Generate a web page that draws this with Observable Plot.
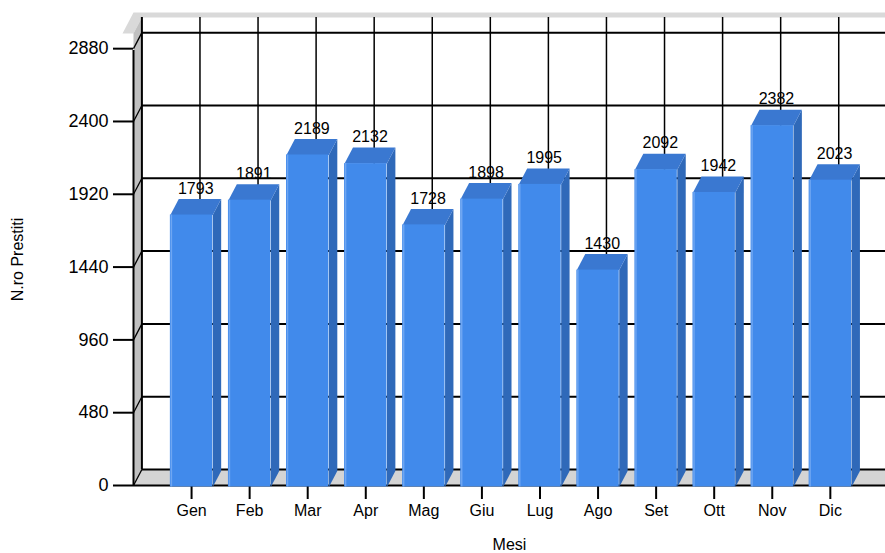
<!DOCTYPE html>
<html>
<head>
<meta charset="utf-8">
<script src="https://cdn.jsdelivr.net/npm/d3@7"></script>
<script src="https://cdn.jsdelivr.net/npm/@observablehq/plot@0.6"></script>
<style>
  html, body { margin: 0; padding: 0; background: #fff; }
  #chart svg { display: block; }
</style>
</head>
<body>
<div id="chart"></div>
<script>
// ---- data ----
const months = ["Gen", "Feb", "Mar", "Apr", "Mag", "Giu", "Lug", "Ago", "Set", "Ott", "Nov", "Dic"];
const values = [1793, 1891, 2189, 2132, 1728, 1898, 1995, 1430, 2092, 1942, 2382, 2023];
const yTicks = [0, 480, 960, 1440, 1920, 2400, 2880];
const yLabel = "N.ro Prestiti";
const xLabel = "Mesi";

// ---- layout ----
const W = 885, H = 553;
const mL = 133, mR = 0, mT = 33, mB = 68;
const xDom = [-1, 11.95];
const yDom = [0, 2980];
const pxX = (W - mL - mR) / (xDom[1] - xDom[0]);
const pxY = (H - mT - mB) / (yDom[1] - yDom[0]);
const DX = 8.4 / pxX;     // depth (x) in data units
const DY = 16 / pxY;      // depth (y) in data units
const HW = 21.2 / pxX;    // half bar width
const TK = 20 / pxX;      // y tick length
const x0 = xDom[0], x1 = xDom[1], yTop = yDom[1];
const yMid = (yDom[0] + yDom[1]) / 2;

const data = months.map((m, i) => ({m, i, v: values[i]}));

const poly = (id, pts) => pts.map(([x, y]) => ({id, x, y}));
const tops = data.flatMap(d => poly(d.m, [
  [d.i - HW, d.v], [d.i + HW, d.v], [d.i + HW + DX, d.v + DY], [d.i - HW + DX, d.v + DY]
]));
const sides = data.flatMap(d => poly(d.m, [
  [d.i + HW, 0], [d.i + HW, d.v], [d.i + HW + DX, d.v + DY], [d.i + HW + DX, DY]
]));
const ceiling = poly("c", [
  [x0 - 11 / pxX, yTop], [x0, yTop + 21 / pxY], [x1, yTop + 21 / pxY],
  [x1, yTop + DY], [x0 + DX, yTop + DY], [x0, yTop]
]);
const leftWall = poly("w", [[x0, 0], [x0, yTop], [x0 + DX, yTop + DY], [x0 + DX, DY]]);
const floor = poly("f", [[x0, 0], [x0 + DX, DY], [x1, DY], [x1, 0]]);

const plot = Plot.plot({
  width: W, height: H,
  marginLeft: mL, marginRight: mR, marginTop: mT, marginBottom: mB,
  x: {type: "linear", domain: xDom, axis: null},
  y: {type: "linear", domain: yDom, axis: null},
  style: {fontFamily: "'Liberation Sans', Arial, sans-serif", fontSize: "16px", color: "#000", background: "#fff"},
  marks: [
    Plot.line(ceiling, {x: "x", y: "y", z: "id", fill: "#d9d9d9", stroke: "none"}),
    Plot.line(leftWall, {x: "x", y: "y", z: "id", fill: "#c0c0c0", stroke: "none"}),
    Plot.line(floor, {x: "x", y: "y", z: "id", fill: "#d4d4d4", stroke: "none"}),
    // back wall gridlines
    Plot.ruleY(yTicks, {y: d => d, x1: x0, x2: x1 + 1, dx: 8.4, dy: -16, stroke: "#000", strokeWidth: 2}),
    Plot.ruleX(data, {x: "i", y1: 0, y2: yTop, dx: 8.4, dy: -16, stroke: "#000", strokeWidth: 1.5}),
    Plot.ruleX([x0], {y1: 0, y2: yTop, dx: 8.4, dy: -16, stroke: "#000", strokeWidth: 2}),
    // left wall slanted lines
    Plot.link(yTicks, {x1: x0, y1: d => d, x2: x0 + DX, y2: d => d + DY, stroke: "#000", strokeWidth: 1.3}),
    // y axis ticks and labels
    Plot.ruleY(yTicks, {y: d => d, x1: x0 - TK, x2: x0, stroke: "#000", strokeWidth: 2}),
    Plot.text(yTicks, {x: x0, y: d => d, text: d => String(d), dx: -25, textAnchor: "end", fontSize: 18, fill: "#000"}),
    // front axis lines
    Plot.ruleY([0], {x1: x0, x2: x1, stroke: "#000", strokeWidth: 2}),
    Plot.ruleX([x0], {y1: 0, y2: yTop, insetBottom: -17, stroke: "#000", strokeWidth: 2}),
    Plot.axisX({ticks: data.map(d => d.i), tickFormat: i => months[i], tickSize: 14, tickPadding: 5, label: null, strokeWidth: 2, fontSize: 16}),
    // 3D bars
    Plot.line(sides, {x: "x", y: "y", z: "id", fill: "#2f69b9", stroke: "none", dy: 1.5}),
    Plot.line(tops, {x: "x", y: "y", z: "id", fill: "#3a78d1", stroke: "none", dy: 1.5}),
    Plot.rectY(data, {x1: d => d.i - HW, x2: d => d.i + HW, y1: 0, y2: "v", dy: 1.5, fill: "#418aeb"}),
    Plot.ruleX(data, {x: d => d.i - HW, y1: 0, y2: "v", dx: 1, dy: 1.5, stroke: "#6ea6f2", strokeWidth: 1.5}),
    // value labels
    Plot.text(data, {x: "i", y: "v", text: d => String(d.v), dx: 4.2, dy: -25, fontSize: 16, fill: "#000"}),
    // axis titles
    Plot.text([yLabel], {x: x0, y: yMid, dx: -116, rotate: -90, fontSize: 16, fill: "#000"}),
    Plot.text([xLabel], {frameAnchor: "bottom", dy: 64, fontSize: 16, fill: "#000"})
  ]
});
document.getElementById("chart").appendChild(plot);
</script>
</body>
</html>
